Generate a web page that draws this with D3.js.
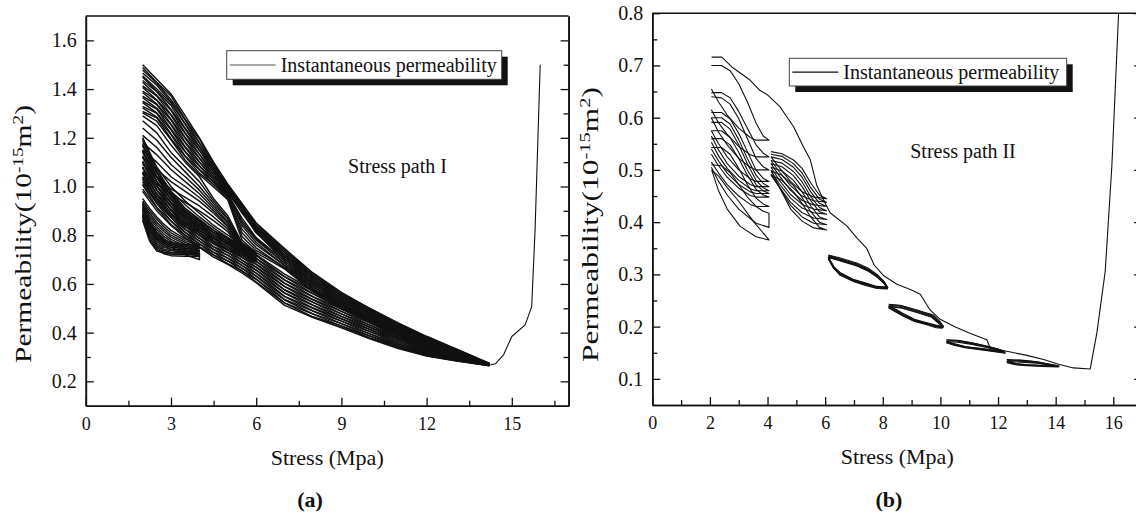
<!DOCTYPE html>
<html>
<head>
<meta charset="utf-8">
<script src="https://cdn.jsdelivr.net/npm/d3@7"></script>
<style>
  body { margin: 0; background: #fff; }
  svg { display: block; }
  text { font-family: "Liberation Serif", "Times New Roman", serif; fill: #111; }
</style>
</head>
<body>
<svg id="chart" width="1136" height="523"></svg>
<script>
// ---------------- Stress path I : cyclic loading, permeability vs stress ----------------
// Stress sampling of the full 2 -> 14.2 MPa cycles
const stressGridI = [2, 2.5, 3, 3.5, 4, 4.5, 5, 5.5, 6, 7, 8, 9, 10, 11, 12, 13, 14.2];
// Loading branches of the full cycles (permeability, 1e-15 m2)
const fullLoadI = [
  [1.500,1.440,1.380,1.290,1.200,1.100,1.010,0.930,0.850,0.745,0.645,0.565,0.500,0.440,0.385,0.335,0.275],
  [1.489,1.428,1.372,1.276,1.195,1.092,1.009,0.924,0.849,0.737,0.643,0.559,0.499,0.436,0.381,0.334,0.274],
  [1.478,1.425,1.356,1.273,1.180,1.092,1.000,0.926,0.838,0.738,0.634,0.560,0.491,0.436,0.378,0.332,0.274],
  [1.466,1.416,1.347,1.258,1.178,1.080,1.003,0.917,0.842,0.728,0.636,0.551,0.494,0.430,0.379,0.328,0.273],
  [1.455,1.400,1.343,1.255,1.164,1.082,0.994,0.920,0.831,0.730,0.626,0.554,0.485,0.431,0.373,0.329,0.272],
  [1.449,1.391,1.333,1.239,1.163,1.070,0.997,0.910,0.835,0.719,0.628,0.545,0.488,0.424,0.375,0.324,0.272],
  [1.435,1.389,1.316,1.236,1.150,1.071,0.988,0.913,0.824,0.721,0.618,0.547,0.480,0.426,0.369,0.325,0.272],
  [1.428,1.374,1.313,1.220,1.148,1.060,0.991,0.905,0.827,0.711,0.620,0.538,0.483,0.420,0.370,0.321,0.271],
  [1.413,1.371,1.296,1.217,1.133,1.061,0.982,0.908,0.817,0.712,0.610,0.540,0.474,0.421,0.364,0.321,0.271],
  [1.407,1.355,1.293,1.201,1.132,1.049,0.985,0.898,0.820,0.702,0.612,0.531,0.477,0.414,0.366,0.318,0.270],
  [1.392,1.354,1.276,1.198,1.117,1.050,0.975,0.901,0.809,0.703,0.603,0.533,0.468,0.416,0.359,0.316,0.270],
  [1.386,1.338,1.273,1.182,1.116,1.038,0.978,0.891,0.812,0.692,0.605,0.524,0.471,0.409,0.361,0.314,0.269],
  [1.371,1.336,1.256,1.179,1.101,1.040,0.969,0.870,0.790,0.694,0.595,0.527,0.462,0.410,0.355,0.312,0.269],
  [1.365,1.321,1.253,1.163,1.100,1.028,0.972,0.860,0.785,0.684,0.597,0.518,0.465,0.404,0.356,0.310,0.268],
  [1.350,1.318,1.236,1.160,1.085,1.029,0.963,0.850,0.780,0.685,0.587,0.520,0.456,0.405,0.350,0.308,0.268],
  [1.344,1.302,1.233,1.144,1.084,1.018,0.966,0.840,0.770,0.675,0.589,0.511,0.459,0.399,0.351,0.306,0.268],
  [1.329,1.300,1.216,1.141,1.070,1.019,0.956,0.825,0.760,0.676,0.579,0.513,0.451,0.400,0.345,0.305,0.267],
  [1.323,1.285,1.213,1.125,1.069,1.007,0.959,0.810,0.748,0.666,0.581,0.504,0.453,0.393,0.346,0.303,0.267],
  [1.308,1.282,1.196,1.123,1.055,1.008,0.950,0.795,0.738,0.668,0.571,0.506,0.445,0.395,0.340,0.301,0.267],
  [1.302,1.268,1.192,1.108,1.048,0.998,0.946,0.780,0.728,0.662,0.567,0.502,0.443,0.391,0.338,0.300,0.266]
];
// Unloading branches of the same cycles, listed in increasing stress
const fullUnloadI = [
  [1.200,1.070,0.980,0.910,0.860,0.820,0.790,0.750,0.720,0.640,0.575,0.515,0.460,0.400,0.350,0.305,0.275],
  [1.190,1.058,0.975,0.901,0.856,0.811,0.786,0.741,0.716,0.630,0.571,0.507,0.457,0.394,0.349,0.303,0.274],
  [1.174,1.055,0.962,0.899,0.845,0.810,0.775,0.742,0.705,0.629,0.560,0.507,0.448,0.395,0.343,0.302,0.274],
  [1.168,1.040,0.961,0.888,0.846,0.800,0.776,0.730,0.704,0.617,0.559,0.497,0.449,0.388,0.344,0.301,0.273],
  [1.151,1.037,0.947,0.887,0.834,0.799,0.764,0.731,0.693,0.616,0.548,0.497,0.440,0.388,0.338,0.300,0.272],
  [1.145,1.022,0.946,0.875,0.833,0.788,0.764,0.719,0.692,0.603,0.547,0.487,0.440,0.381,0.339,0.299,0.272],
  [1.127,1.019,0.933,0.874,0.822,0.787,0.752,0.720,0.681,0.602,0.536,0.487,0.431,0.381,0.334,0.298,0.272],
  [1.121,1.004,0.931,0.863,0.823,0.777,0.753,0.708,0.680,0.590,0.535,0.477,0.431,0.374,0.334,0.297,0.271],
  [1.104,1.001,0.918,0.862,0.811,0.776,0.741,0.709,0.669,0.589,0.524,0.477,0.422,0.375,0.329,0.296,0.271],
  [1.099,0.986,0.917,0.850,0.811,0.765,0.741,0.697,0.668,0.576,0.524,0.467,0.422,0.367,0.329,0.294,0.270],
  [1.081,0.984,0.903,0.849,0.799,0.764,0.729,0.698,0.657,0.575,0.513,0.467,0.413,0.368,0.324,0.293,0.269],
  [1.076,0.969,0.902,0.838,0.799,0.753,0.729,0.686,0.656,0.563,0.512,0.457,0.413,0.360,0.324,0.292,0.269],
  [1.058,0.966,0.889,0.837,0.787,0.752,0.717,0.687,0.644,0.562,0.501,0.457,0.404,0.361,0.319,0.291,0.268],
  [1.053,0.951,0.887,0.825,0.788,0.742,0.718,0.675,0.644,0.549,0.500,0.447,0.404,0.354,0.320,0.290,0.268],
  [1.035,0.948,0.874,0.824,0.776,0.741,0.706,0.676,0.632,0.548,0.489,0.447,0.395,0.354,0.315,0.289,0.267],
  [1.029,0.933,0.873,0.812,0.776,0.730,0.706,0.664,0.632,0.536,0.488,0.437,0.395,0.347,0.315,0.288,0.266],
  [1.012,0.930,0.859,0.811,0.764,0.729,0.694,0.665,0.620,0.534,0.477,0.437,0.386,0.347,0.310,0.287,0.266],
  [1.006,0.915,0.858,0.800,0.765,0.719,0.695,0.653,0.619,0.522,0.476,0.427,0.386,0.340,0.310,0.286,0.265],
  [0.989,0.912,0.844,0.799,0.753,0.718,0.683,0.654,0.608,0.521,0.465,0.427,0.378,0.340,0.305,0.285,0.265],
  [0.980,0.900,0.840,0.790,0.750,0.710,0.680,0.645,0.605,0.512,0.462,0.420,0.375,0.335,0.304,0.284,0.264]
];
// Cycles between 2 and 6 MPa
const midGridI = [2, 2.5, 3, 3.5, 4, 4.5, 5, 5.5, 6];
const midLoadI = [
  [1.29,1.25,1.17,1.10,1.04,0.95,0.88,0.77,0.73],
  [1.27,1.22,1.14,1.08,1.02,0.94,0.87,0.765,0.725],
  [1.24,1.19,1.12,1.06,1.00,0.93,0.865,0.76,0.72],
  [1.21,1.16,1.09,1.04,0.985,0.92,0.855,0.755,0.715],
  [1.18,1.13,1.07,1.02,0.97,0.91,0.85,0.75,0.71],
  [1.15,1.10,1.04,1.00,0.955,0.90,0.84,0.745,0.705],
  [1.12,1.07,1.02,0.98,0.94,0.89,0.835,0.74,0.70],
  [1.09,1.04,0.99,0.955,0.92,0.875,0.825,0.735,0.695],
  [1.06,1.01,0.97,0.935,0.90,0.86,0.815,0.73,0.69]
];
const midUnloadI = [
  [1.20,1.08,1.00,0.94,0.89,0.84,0.80,0.76,0.73],
  [1.17,1.06,0.98,0.925,0.875,0.83,0.79,0.752,0.725],
  [1.14,1.04,0.965,0.91,0.865,0.82,0.782,0.746,0.72],
  [1.12,1.02,0.95,0.895,0.85,0.81,0.775,0.74,0.715],
  [1.10,1.00,0.935,0.88,0.84,0.80,0.768,0.735,0.71],
  [1.08,0.985,0.92,0.87,0.83,0.792,0.76,0.728,0.705],
  [1.06,0.97,0.905,0.855,0.818,0.785,0.752,0.722,0.70],
  [1.04,0.955,0.89,0.845,0.808,0.776,0.745,0.716,0.695],
  [1.02,0.94,0.88,0.835,0.80,0.768,0.738,0.71,0.69]
];
// Cycles between 2 and 4 MPa
const lowGridI = [2, 2.25, 2.5, 2.75, 3, 3.5, 4];
const lowLoadI = [
  [0.95,0.91,0.875,0.845,0.82,0.785,0.76],
  [0.94,0.90,0.865,0.835,0.81,0.778,0.755],
  [0.93,0.89,0.853,0.825,0.80,0.77,0.75],
  [0.925,0.88,0.843,0.815,0.792,0.762,0.745],
  [0.915,0.87,0.833,0.805,0.783,0.755,0.738],
  [0.905,0.86,0.823,0.795,0.775,0.748,0.732],
  [0.90,0.85,0.813,0.786,0.766,0.742,0.725],
  [0.89,0.84,0.803,0.777,0.758,0.735,0.718],
  [0.88,0.83,0.793,0.768,0.75,0.728,0.712],
  [0.875,0.82,0.783,0.758,0.742,0.72,0.70]
];
const lowUnloadI = [
  [0.935,0.86,0.81,0.78,0.77,0.762,0.76],
  [0.925,0.85,0.80,0.772,0.763,0.757,0.755],
  [0.915,0.84,0.79,0.765,0.756,0.751,0.75],
  [0.91,0.83,0.782,0.758,0.75,0.746,0.745],
  [0.90,0.82,0.773,0.75,0.742,0.739,0.738],
  [0.89,0.81,0.765,0.743,0.736,0.733,0.732],
  [0.885,0.80,0.757,0.737,0.729,0.726,0.725],
  [0.875,0.79,0.75,0.73,0.722,0.72,0.718],
  [0.865,0.783,0.743,0.724,0.716,0.713,0.712],
  [0.86,0.775,0.735,0.727,0.727,0.727,0.727]
];
// Final loading to failure
const failureI = [[14.24,0.267],[14.42,0.272],[14.71,0.309],[15.0,0.384],[15.47,0.432],[15.7,0.507],[15.82,0.823],[16.0,1.50]];

// ---------------- Stress path II ----------------
const envelopeII = [[2.06,0.716],[2.41,0.716],[2.81,0.695],[3.39,0.672],[3.74,0.652],[3.97,0.645],[4.43,0.621],[4.9,0.583],
  [5.24,0.545],[5.48,0.52],[5.71,0.47],[5.94,0.443],[6.17,0.418],[6.75,0.393],[7.1,0.37],[7.44,0.35],[7.7,0.318],[8.02,0.298],
  [8.49,0.281],[9.0,0.27],[9.3,0.262],[9.64,0.232],[9.99,0.214],[10.5,0.2],[11.0,0.188],[11.61,0.175],[11.72,0.16],[12.3,0.153],
  [13.0,0.145],[13.58,0.137],[14.1,0.128],[14.62,0.121],[15.2,0.119],[15.43,0.188],[15.72,0.306],[15.95,0.507],[16.2,0.82]];
const cycles2to4II = [
  [[2.05,.700],[2.4,.700],[2.7,.690],[3.0,.665],[3.3,.630],[3.6,.590],[3.85,.565],[4.05,.557],[3.6,.557],[3.4,.562],[3.0,.580],[2.6,.605],[2.3,.630],[2.05,.655]],
  [[2.05,.648],[2.4,.648],[2.7,.638],[3.0,.612],[3.3,.580],[3.6,.548],[3.85,.532],[4.05,.525],[3.6,.525],[3.4,.529],[3.0,.545],[2.6,.568],[2.3,.590],[2.05,.615]],
  [[2.05,.640],[2.4,.638],[2.7,.626],[3.0,.598],[3.3,.560],[3.6,.522],[3.85,.506],[4.05,.500],[3.6,.500],[3.4,.505],[3.0,.522],[2.6,.548],[2.3,.572],[2.05,.600]],
  [[2.05,.610],[2.4,.610],[2.7,.598],[3.0,.570],[3.3,.535],[3.6,.500],[3.85,.484],[4.05,.478],[3.6,.478],[3.4,.483],[3.0,.500],[2.6,.525],[2.3,.550],[2.05,.575]],
  [[2.05,.600],[2.4,.600],[2.7,.588],[3.0,.558],[3.3,.522],[3.6,.490],[3.85,.474],[4.05,.468],[3.6,.468],[3.4,.472],[3.0,.488],[2.6,.512],[2.3,.538],[2.05,.565]],
  [[2.05,.591],[2.4,.591],[2.7,.578],[3.0,.548],[3.3,.512],[3.6,.480],[3.85,.466],[4.05,.460],[3.6,.460],[3.4,.464],[3.0,.480],[2.6,.503],[2.3,.527],[2.05,.553]],
  [[2.05,.575],[2.4,.575],[2.7,.562],[3.0,.534],[3.3,.500],[3.6,.472],[3.85,.460],[4.05,.455],[3.6,.455],[3.4,.458],[3.0,.472],[2.6,.494],[2.3,.517],[2.05,.540]],
  [[2.05,.560],[2.4,.560],[2.7,.548],[3.0,.522],[3.3,.490],[3.6,.463],[3.85,.452],[4.05,.448],[3.6,.448],[3.4,.451],[3.0,.465],[2.6,.486],[2.3,.508],[2.05,.530]],
  [[2.05,.543],[2.4,.543],[2.7,.530],[3.0,.503],[3.3,.472],[3.6,.446],[3.85,.435],[4.05,.430],[3.6,.430],[3.4,.434],[3.0,.450],[2.6,.472],[2.3,.494],[2.05,.515]],
  [[2.05,.510],[2.4,.508],[2.7,.495],[3.0,.472],[3.3,.448],[3.6,.430],[3.85,.421],[4.05,.417],[4.05,.390],[3.6,.398],[3.0,.425],[2.6,.452],[2.3,.478],[2.05,.505]],
  [[2.05,.500],[2.3,.488],[2.6,.466],[3.0,.440],[3.5,.402],[4.05,.366],[3.6,.372],[3.05,.392],[2.6,.425],[2.3,.460],[2.06,.500]]
];
const cycles4to6II = [
  [[4.12,.535],[4.5,.531],[4.9,.519],[5.2,.503],[5.5,.475],[5.8,.452],[6.05,.445],[5.6,.448],[5.2,.458],[4.8,.478],[4.4,.505],[4.12,.525]],
  [[4.12,.530],[4.5,.526],[4.9,.512],[5.2,.494],[5.5,.466],[5.8,.444],[6.05,.438],[5.6,.441],[5.2,.450],[4.8,.470],[4.4,.497],[4.12,.518]],
  [[4.12,.525],[4.5,.520],[4.9,.505],[5.2,.486],[5.5,.458],[5.8,.436],[6.05,.430],[5.6,.433],[5.2,.442],[4.8,.461],[4.4,.489],[4.12,.512]],
  [[4.12,.518],[4.5,.513],[4.9,.497],[5.2,.477],[5.5,.449],[5.8,.428],[6.05,.422],[5.6,.425],[5.2,.434],[4.8,.453],[4.4,.481],[4.12,.505]],
  [[4.12,.512],[4.5,.506],[4.9,.489],[5.2,.468],[5.5,.441],[5.8,.420],[6.05,.415],[5.6,.418],[5.2,.427],[4.8,.446],[4.4,.474],[4.12,.498]],
  [[4.12,.505],[4.5,.498],[4.9,.480],[5.2,.458],[5.5,.431],[5.8,.410],[6.05,.405],[5.6,.408],[5.2,.418],[4.8,.438],[4.4,.468],[4.12,.492]],
  [[4.12,.498],[4.5,.490],[4.9,.470],[5.2,.447],[5.5,.420],[5.8,.400],[6.05,.395],[5.6,.398],[5.2,.410],[4.8,.432],[4.4,.468],[4.12,.490]],
  [[4.12,.490],[4.5,.480],[4.9,.458],[5.2,.436],[5.5,.410],[5.8,.390],[6.05,.385],[5.6,.389],[5.2,.402],[4.8,.425],[4.4,.468],[4.12,.500]]
];
const cycles6to8II = [
  [[6.10,.337],[6.5,.332],[7.1,.322],[7.5,.312],[7.8,.300],[8.05,.286],[8.15,.276],[7.8,.277],[7.44,.283],[7.0,.290],[6.52,.303],[6.3,.315],[6.10,.333]],
  [[6.12,.335],[6.5,.329],[7.1,.319],[7.5,.309],[7.8,.297],[8.05,.283],[8.15,.274],[7.8,.275],[7.44,.281],[7.0,.288],[6.52,.301],[6.3,.313],[6.12,.331]],
  [[6.10,.333],[6.5,.327],[7.1,.317],[7.5,.307],[7.85,.294],[8.1,.280],[8.15,.273],[7.8,.274],[7.44,.280],[7.0,.287],[6.52,.300],[6.3,.311],[6.10,.330]],
  [[6.13,.336],[6.5,.330],[7.1,.320],[7.5,.310],[7.8,.298],[8.05,.285],[8.18,.275],[7.8,.276],[7.44,.282],[7.0,.289],[6.55,.302],[6.3,.314],[6.13,.332]],
  [[6.11,.334],[6.5,.328],[7.1,.318],[7.5,.308],[7.8,.296],[8.05,.282],[8.15,.272],[7.8,.273],[7.4,.279],[7.0,.286],[6.5,.299],[6.3,.312],[6.11,.331]],
  [[6.14,.332],[6.5,.326],[7.1,.316],[7.5,.306],[7.8,.295],[8.08,.281],[8.16,.273],[7.8,.275],[7.44,.281],[7.0,.288],[6.52,.301],[6.3,.312],[6.14,.329]]
];
const cycles8to10II = [
  [[8.2,.243],[8.6,.241],[9.18,.232],[9.76,.222],[10.0,.209],[10.1,.200],[9.9,.201],[9.5,.207],[9.1,.213],[8.72,.223],[8.45,.232],[8.2,.240]],
  [[8.22,.241],[8.6,.239],[9.18,.230],[9.7,.221],[10.0,.207],[10.1,.199],[9.9,.200],[9.5,.206],[9.1,.212],[8.72,.222],[8.45,.231],[8.22,.238]],
  [[8.2,.239],[8.6,.237],[9.2,.228],[9.7,.219],[10.0,.206],[10.08,.198],[9.9,.199],[9.5,.205],[9.1,.211],[8.7,.221],[8.45,.229],[8.2,.237]],
  [[8.25,.242],[8.65,.240],[9.2,.231],[9.75,.220],[10.02,.205],[10.1,.201],[9.9,.202],[9.5,.208],[9.1,.214],[8.75,.224],[8.5,.232],[8.25,.239]],
  [[8.2,.238],[8.6,.236],[9.18,.227],[9.7,.218],[9.98,.204],[10.05,.197],[9.85,.198],[9.5,.204],[9.1,.210],[8.72,.220],[8.45,.228],[8.2,.236]]
];
const cycles10to12II = [
  [[10.2,.175],[10.6,.174],[11.1,.169],[11.6,.163],[12.0,.157],[12.25,.151],[12.0,.153],[11.5,.157],[10.9,.161],[10.5,.166],[10.2,.172]],
  [[10.22,.173],[10.6,.172],[11.1,.167],[11.6,.161],[12.0,.155],[12.2,.150],[12.0,.152],[11.5,.156],[10.9,.160],[10.5,.165],[10.22,.170]],
  [[10.2,.171],[10.6,.170],[11.1,.166],[11.6,.160],[12.05,.154],[12.25,.149],[12.0,.151],[11.5,.155],[10.9,.159],[10.5,.164],[10.2,.169]],
  [[10.25,.174],[10.65,.173],[11.15,.168],[11.65,.162],[12.05,.156],[12.22,.152],[11.95,.154],[11.45,.158],[10.85,.162],[10.5,.167],[10.25,.171]]
];
const cycles12to14II = [
  [[12.3,.137],[12.8,.136],[13.3,.133],[13.8,.128],[14.1,.125],[13.5,.126],[13.0,.127],[12.6,.129],[12.3,.134]],
  [[12.32,.135],[12.8,.134],[13.3,.131],[13.8,.127],[14.05,.124],[13.5,.125],[13.0,.126],[12.6,.128],[12.32,.133]],
  [[12.3,.133],[12.8,.132],[13.35,.130],[13.85,.126],[14.1,.123],[13.5,.124],[13.0,.125],[12.6,.127],[12.3,.131]],
  [[12.35,.136],[12.85,.135],[13.4,.132],[13.9,.127],[14.12,.124],[13.55,.125],[13.05,.127],[12.65,.129],[12.35,.134]]
];

// Axis ticks
const xTicksI = [0, 3, 6, 9, 12, 15];
const xMinorI = [1.5, 4.5, 7.5, 10.5, 13.5, 16.5];
const yTicksI = [0.2, 0.4, 0.6, 0.8, 1.0, 1.2, 1.4, 1.6];
const yMinorI = [0.3, 0.5, 0.7, 0.9, 1.1, 1.3, 1.5];
const xTicksII = [0, 2, 4, 6, 8, 10, 12, 14, 16];
const xMinorII = [1, 3, 5, 7, 9, 11, 13, 15];
const yTicksII = [0.1, 0.2, 0.3, 0.4, 0.5, 0.6, 0.7, 0.8];
const yMinorII = [0.15, 0.25, 0.35, 0.45, 0.55, 0.65, 0.75];

// Assemble closed cycles: loading branch followed by the unloading branch back to the start stress
function cyclesFromGrid(grid, loads, unloads) {
  return loads.map((ld, i) => {
    const up = grid.map((s, j) => [s, ld[j]]);
    const down = grid.map((s, j) => [s, unloads[i][j]]).reverse();
    return up.concat(down);
  });
}
const seriesI = []
  .concat(cyclesFromGrid(stressGridI, fullLoadI, fullUnloadI))
  .concat(cyclesFromGrid(midGridI, midLoadI, midUnloadI))
  .concat(cyclesFromGrid(lowGridI, lowLoadI, lowUnloadI))
  .concat([failureI]);
const seriesII = []
  .concat(cycles2to4II, cycles4to6II, cycles6to8II, cycles8to10II, cycles10to12II, cycles12to14II)
  .concat([envelopeII]);

const svg = d3.select("#chart");

function drawPanel(cfg) {
  const g = svg.append("g");
  const x = d3.scaleLinear().domain(cfg.xDomain).range(cfg.xRange);
  const y = d3.scaleLinear().domain(cfg.yDomain).range(cfg.yRange);
  const [xl, xr] = cfg.xRange;
  const [yb, yt] = cfg.yRange;

  const clipId = "clip-" + cfg.id;
  svg.append("clipPath").attr("id", clipId)
    .append("rect").attr("x", xl).attr("y", yt).attr("width", xr - xl).attr("height", yb - yt);

  const line = d3.line().x(d => x(d[0])).y(d => y(d[1]));
  g.append("g").attr("clip-path", `url(#${clipId})`)
    .selectAll("path").data(cfg.series).join("path")
    .attr("d", line).attr("fill", "none")
    .attr("stroke", "#111").attr("stroke-width", (d, i) => i === cfg.series.length - 1 ? 1.1 : cfg.lineWidth)
    .attr("stroke-linejoin", "round");

  const styleAxis = sel => {
    sel.selectAll(".domain").attr("stroke", "#111").attr("stroke-width", 1.6);
    sel.selectAll(".tick line").attr("stroke", "#111").attr("stroke-width", 1.3);
    sel.selectAll("text").attr("font-family", '"Liberation Serif", serif').attr("fill", "#111");
  };

  // bottom axis
  g.append("g").attr("transform", `translate(0,${yb})`)
    .call(d3.axisBottom(x).tickValues(cfg.xTicks).tickSizeInner(-8).tickSizeOuter(0).tickPadding(11.5).tickFormat(d3.format("d")))
    .call(styleAxis).selectAll("text").attr("font-size", 18);
  g.append("g").attr("transform", `translate(0,${yb})`)
    .call(d3.axisBottom(x).tickValues(cfg.xMinor).tickSizeInner(-5).tickSizeOuter(0).tickFormat(""))
    .call(styleAxis);
  // left axis
  g.append("g").attr("transform", `translate(${xl},0)`)
    .call(d3.axisLeft(y).tickValues(cfg.yTicks).tickSizeInner(-8).tickSizeOuter(0).tickPadding(9).tickFormat(d3.format(".1f")))
    .call(styleAxis).selectAll("text").attr("font-size", 20);
  g.append("g").attr("transform", `translate(${xl},0)`)
    .call(d3.axisLeft(y).tickValues(cfg.yMinor).tickSizeInner(-5).tickSizeOuter(0).tickFormat(""))
    .call(styleAxis);
  // right frame with inward ticks
  g.append("g").attr("transform", `translate(${xr},0)`)
    .call(d3.axisRight(y).tickValues(cfg.yTicks).tickSizeInner(-8).tickSizeOuter(0).tickFormat(""))
    .call(styleAxis);
  g.append("g").attr("transform", `translate(${xr},0)`)
    .call(d3.axisRight(y).tickValues(cfg.yMinor).tickSizeInner(-5).tickSizeOuter(0).tickFormat(""))
    .call(styleAxis);
  // top frame
  g.append("line").attr("x1", xl).attr("x2", xr).attr("y1", yt).attr("y2", yt)
    .attr("stroke", "#111").attr("stroke-width", 1.6);

  // axis titles
  g.append("text").attr("x", (xl + xr) / 2).attr("y", cfg.xTitleY)
    .attr("text-anchor", "middle").attr("font-size", 22).text("Stress (Mpa)");
  const yTitle = g.append("text")
    .attr("transform", `translate(${cfg.yTitleX},${cfg.yTitleY}) rotate(-90)`)
    .attr("text-anchor", "middle").attr("font-size", 23)
    .attr("textLength", cfg.yTitleLength).attr("lengthAdjust", "spacingAndGlyphs");
  yTitle.append("tspan").text("Permeability(10");
  yTitle.append("tspan").attr("font-size", 15).attr("dy", -8).text("-15");
  yTitle.append("tspan").attr("dy", 8).text("m");
  yTitle.append("tspan").attr("font-size", 15).attr("dy", -8).text("2");
  yTitle.append("tspan").attr("dy", 8).text(")");

  // legend with drop shadow
  const L = cfg.legend;
  g.append("rect").attr("x", L.x + 6).attr("y", L.y + 6).attr("width", L.w).attr("height", L.h).attr("fill", "#111");
  g.append("rect").attr("x", L.x).attr("y", L.y).attr("width", L.w).attr("height", L.h)
    .attr("fill", "#fff").attr("stroke", "#444").attr("stroke-width", 1);
  g.append("line").attr("x1", L.x + 3).attr("x2", L.x + 49).attr("y1", L.y + L.h / 2).attr("y2", L.y + L.h / 2)
    .attr("stroke", L.lineColor).attr("stroke-width", 1.2);
  g.append("text").attr("x", L.x + 54).attr("y", L.y + L.h / 2 + 7).attr("font-size", 20)
    .text("Instantaneous permeability");

  // annotation and panel label
  g.append("text").attr("x", cfg.note.x).attr("y", cfg.note.y).attr("text-anchor", "middle")
    .attr("font-size", 20).text(cfg.note.text);
  g.append("text").attr("x", cfg.tag.x).attr("y", cfg.tag.y).attr("text-anchor", "middle")
    .attr("font-size", 22).attr("font-weight", "bold").text(cfg.tag.text);
}

drawPanel({
  id: "a", series: seriesI, lineWidth: 1.45,
  xDomain: [0, 17], yDomain: [0.1, 1.7],
  xRange: [85.8, 568.6], yRange: [405.7, 16],
  xTicks: xTicksI, xMinor: xMinorI, yTicks: yTicksI, yMinor: yMinorI,
  xTitleY: 465, yTitleX: 31, yTitleY: 234, yTitleLength: 258,
  legend: { x: 226.7, y: 50.7, w: 275, h: 28.6, lineColor: "#555" },
  note: { x: 397.5, y: 173, text: "Stress path I" },
  tag: { x: 310, y: 507, text: "(a)" }
});
drawPanel({
  id: "b", series: seriesII, lineWidth: 1.1,
  xDomain: [0, 17], yDomain: [0.05, 0.8],
  xRange: [652.3, 1142.1], yRange: [405, 13.2],
  xTicks: xTicksII, xMinor: xMinorII, yTicks: yTicksII, yMinor: yMinorII,
  xTitleY: 464, yTitleX: 598, yTitleY: 224.5, yTitleLength: 275,
  legend: { x: 789.3, y: 58.3, w: 277.4, h: 27.7, lineColor: "#111" },
  note: { x: 963, y: 157.5, text: "Stress path II" },
  tag: { x: 889, y: 507, text: "(b)" }
});
</script>
</body>
</html>
